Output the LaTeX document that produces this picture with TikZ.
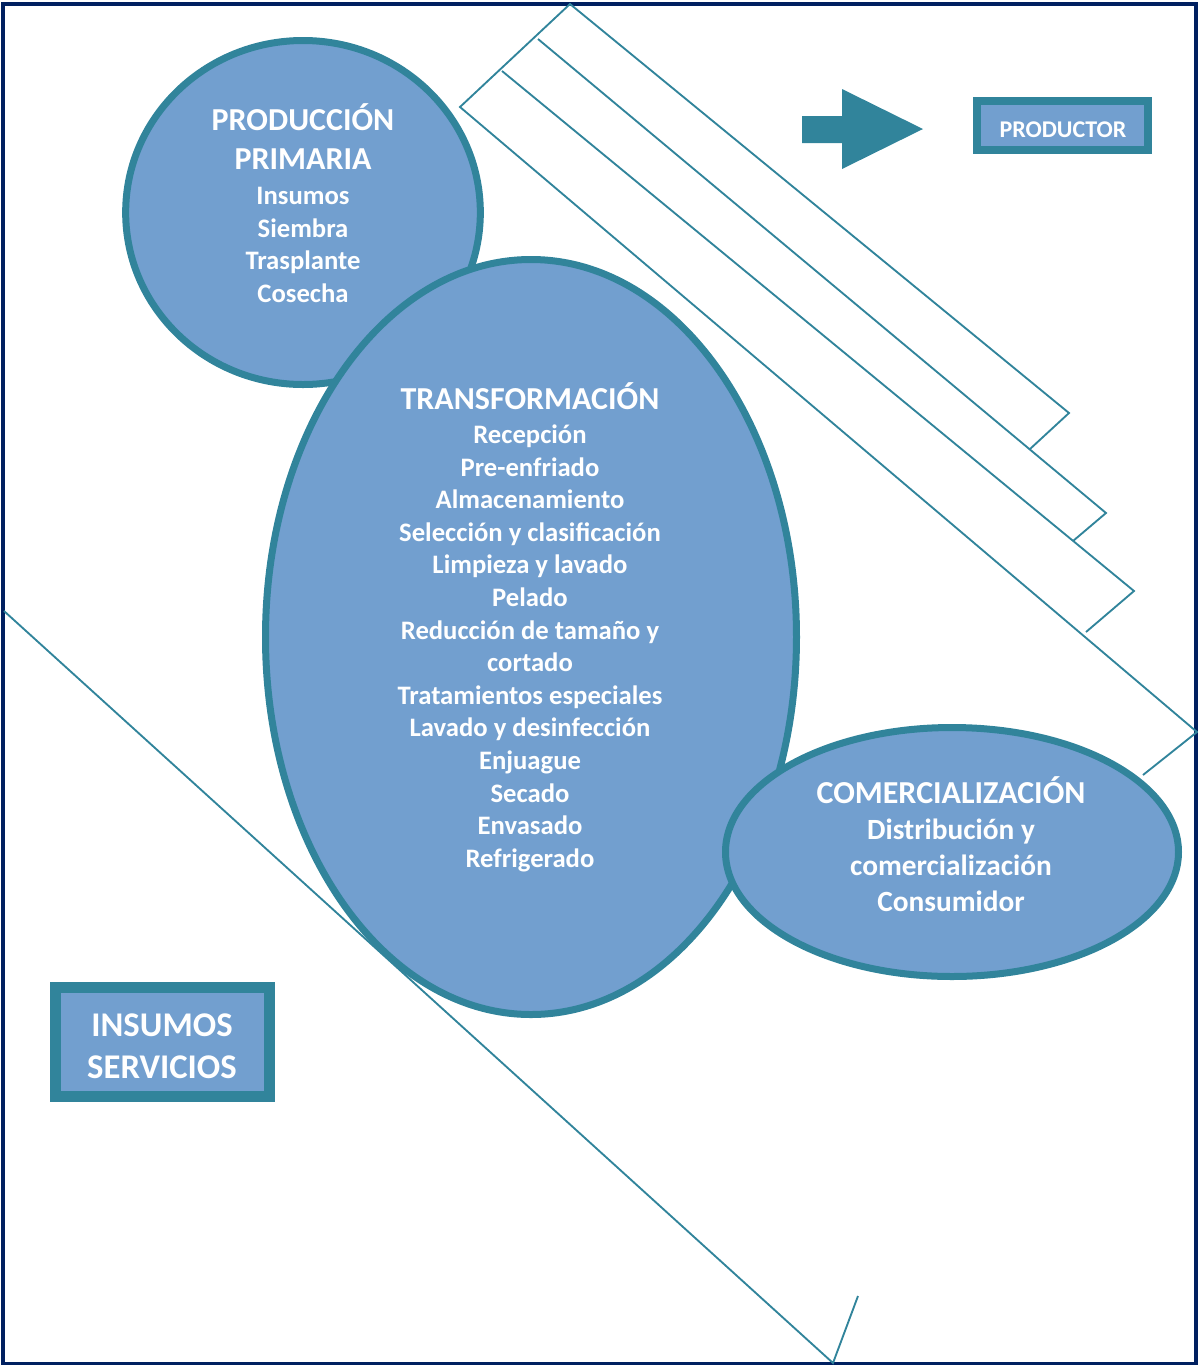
\documentclass[tikz,border=0pt]{standalone}
\usepackage{fontspec}
\setmainfont{Carlito}
\usepackage{tikz}
\usetikzlibrary{shapes.geometric}

\definecolor{verdeazul}{RGB}{49,132,155}
\definecolor{azulclaro}{RGB}{114,159,207}
\definecolor{marino}{RGB}{0,32,96}

\tikzset{
  burbuja/.style={shape=ellipse, draw=verdeazul, fill=azulclaro, line width=5.25pt, inner sep=0pt},
  caja/.style={shape=rectangle, draw=verdeazul, fill=azulclaro, inner sep=0pt},
  titulo/.style={anchor=base, text=white, inner sep=0pt, font=\bfseries\fontsize{24}{28}\selectfont},
  paso/.style={anchor=base, text=white, inner sep=0pt, font=\bfseries\fontsize{20}{24}\selectfont},
  pasocom/.style={anchor=base, text=white, inner sep=0pt, font=\bfseries\fontsize{22}{26}\selectfont},
  trazo/.style={draw=verdeazul, line width=1.4pt}
}

\begin{document}
\begin{tikzpicture}[x=0.75pt,y=-0.75pt]
\useasboundingbox (0,0) rectangle (1198,1365);
\draw[marino, line width=3pt] (3,3.7) rectangle (1196,1364);

% franjas diagonales
\draw[trazo] (1030,449) -- (1069,413) -- (570,4) -- (460,107) -- (1197,732) -- (1143,775);
\draw[trazo] (538,39) -- (1106,513) -- (1073,541);
\draw[trazo] (502,71) -- (1134,591) -- (1086,632);
\draw[trazo] (4,611) -- (833,1363) -- (858,1296);

% etapas
\node[burbuja, minimum width=266pt, minimum height=258pt] (prod) at (303,212.5) {};
\node[burbuja, minimum width=398.25pt, minimum height=566.25pt] (transf) at (531,637) {};
\node[burbuja, minimum width=339.75pt, minimum height=186.75pt] (comer) at (952,852) {};

\node[titulo] (prodA) at (303,130) {PRODUCCIÓN};
\node[titulo] (prodB) at (303,169) {PRIMARIA};
\node[paso] (prod1) at (303,204) {Insumos};
\node[paso] (prod2) at (303,237) {Siembra};
\node[paso] (prod3) at (303,269.5) {Trasplante};
\node[paso] (prod4) at (303,302) {Cosecha};

\node[titulo] (transfA) at (530,409) {TRANSFORMACIÓN};
\node[paso] (transf1) at (530,443.5) {Recepción};
\node[paso] (transf2) at (530,476.1) {Pre-enfriado};
\node[paso] (transf3) at (530,508.7) {Almacenamiento};
\node[paso] (transf4) at (530,541.3) {Selección y clasificación};
\node[paso] (transf5) at (530,573.9) {Limpieza y lavado};
\node[paso] (transf6) at (530,606.5) {Pelado};
\node[paso] (transf7) at (530,639.1) {Reducción de tamaño y};
\node[paso] (transf8) at (530,671.7) {cortado};
\node[paso] (transf9) at (530,704.3) {Tratamientos especiales};
\node[paso] (transf10) at (530,736.9) {Lavado y desinfección};
\node[paso] (transf11) at (530,769.5) {Enjuague};
\node[paso] (transf12) at (530,802.1) {Secado};
\node[paso] (transf13) at (530,834.7) {Envasado};
\node[paso] (transf14) at (530,867.3) {Refrigerado};

\node[titulo] (comerA) at (951,803) {COMERCIALIZACIÓN};
\node[pasocom] (comer1) at (951,839) {Distribución y};
\node[pasocom] (comer2) at (951,875) {comercialización};
\node[pasocom] (comer3) at (951,911) {Consumidor};

% flecha y cajas
\fill[verdeazul] (802,116) -- (842,116) -- (842,89) -- (923,129) -- (842,169) -- (842,143) -- (802,143) -- cycle;
\node[caja, line width=6pt, minimum width=128.25pt, minimum height=36.75pt] (productor) at (1062.5,125.5) {};
\node[anchor=base, text=white, inner sep=0pt, font=\bfseries\fontsize{18}{22}\selectfont] (productorT) at (1063,137.5) {PRODUCTOR};
\node[caja, line width=8.25pt, minimum width=160.5pt, minimum height=81.75pt] (insumos) at (162.5,1042) {};
\node[anchor=base, text=white, inner sep=0pt, font=\bfseries\fontsize{26}{31}\selectfont] (insumosA) at (162,1036) {INSUMOS};
\node[anchor=base, text=white, inner sep=0pt, font=\bfseries\fontsize{26}{31}\selectfont] (insumosB) at (162,1078) {SERVICIOS};
\end{tikzpicture}
\end{document}
